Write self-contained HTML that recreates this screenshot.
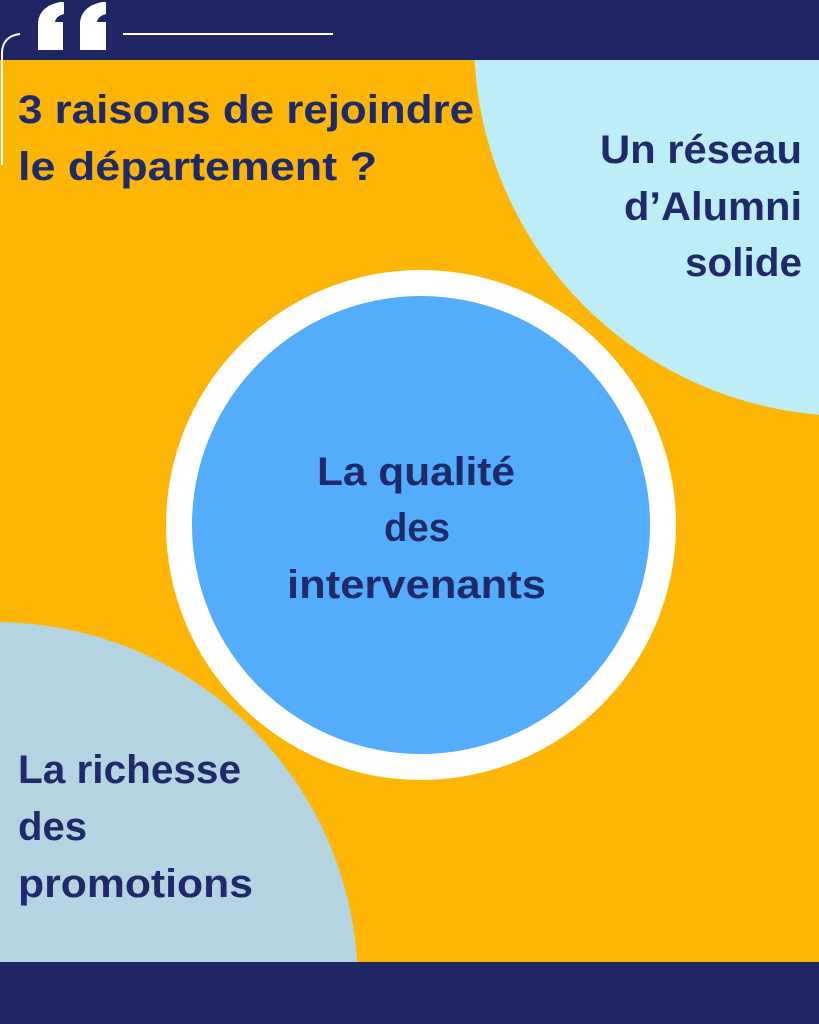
<!DOCTYPE html>
<html><head><meta charset="utf-8"><style>
html,body{margin:0;padding:0;background:#fdb606;width:819px;height:1024px;overflow:hidden}
svg{display:block}
text{font-family:"Liberation Sans",sans-serif;font-weight:bold;fill:#1f2a6b;font-size:40px}
</style></head><body>
<svg width="819" height="1024" viewBox="0 0 819 1024" xmlns="http://www.w3.org/2000/svg">
<rect width="819" height="1024" fill="#fdb606"/>
<circle cx="850" cy="40" r="376" fill="#bdeef7"/>
<circle cx="-5" cy="985" r="363" fill="#b3d4e0"/>
<rect x="0" y="0" width="819" height="60" fill="#1f2562"/>
<rect x="0" y="962" width="819" height="62" fill="#1f2562"/>
<path d="M20 34 Q3 36 2 52 L2 165" fill="none" stroke="#fff" stroke-width="2"/>
<line x1="123" y1="34" x2="333" y2="34" stroke="#fff" stroke-width="2"/>
<path d="M38 50 L38 22 Q40 6 60 2 L64 2 L64 14 Q56 16 55 22 L63 22 L63 50 Z" fill="#fff"/>
<path d="M80 50 L80 22 Q82 6 102 2 L106 2 L106 14 Q98 16 97 22 L106 22 L106 50 Z" fill="#fff"/>
<circle cx="421" cy="525" r="255" fill="#fff"/>
<circle cx="421" cy="525" r="229" fill="#54acfd"/>
<text x="18" y="123" textLength="456" lengthAdjust="spacingAndGlyphs">3 raisons de rejoindre</text>
<text x="18" y="180" textLength="359" lengthAdjust="spacingAndGlyphs">le département ?</text>
<text x="600" y="163" textLength="202" lengthAdjust="spacingAndGlyphs">Un réseau</text>
<text x="624" y="220" textLength="178" lengthAdjust="spacingAndGlyphs">d’Alumni</text>
<text x="685" y="276" textLength="117" lengthAdjust="spacingAndGlyphs">solide</text>
<text x="317" y="485" textLength="198" lengthAdjust="spacingAndGlyphs">La qualité</text>
<text x="384" y="541" textLength="66" lengthAdjust="spacingAndGlyphs">des</text>
<text x="287" y="598" textLength="259" lengthAdjust="spacingAndGlyphs">intervenants</text>
<text x="18" y="783" textLength="223" lengthAdjust="spacingAndGlyphs">La richesse</text>
<text x="18" y="840" textLength="69" lengthAdjust="spacingAndGlyphs">des</text>
<text x="18" y="897" textLength="235" lengthAdjust="spacingAndGlyphs">promotions</text>
</svg>
</body></html>
